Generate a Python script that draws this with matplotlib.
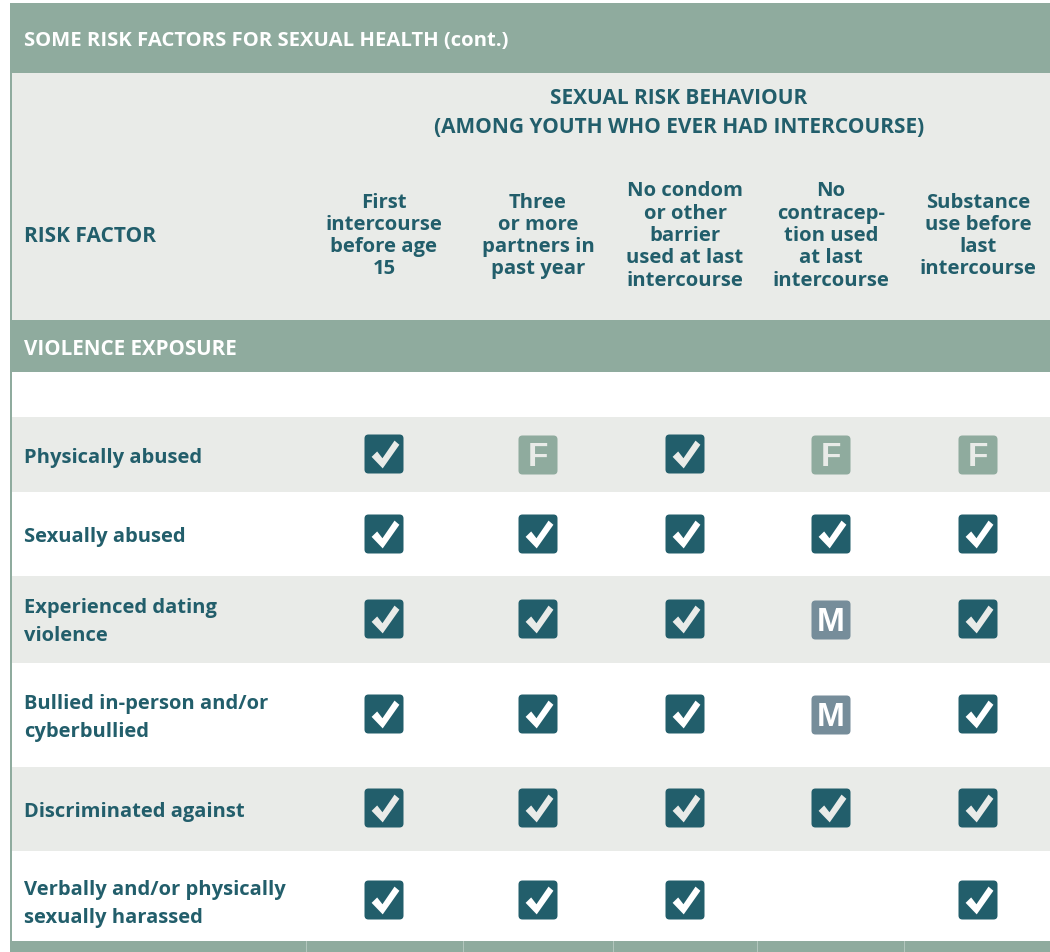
import matplotlib
matplotlib.use("Agg")
import matplotlib.pyplot as plt
from matplotlib.patches import FancyBboxPatch, Rectangle
from matplotlib.path import Path

plt.rcParams['font.family'] = ['Open Sans', 'DejaVu Sans']

title = "SOME RISK FACTORS FOR SEXUAL HEALTH (cont.)"
group_title = "SEXUAL RISK BEHAVIOUR\n(AMONG YOUTH WHO EVER HAD INTERCOURSE)"
section = "VIOLENCE EXPOSURE"
first_col = "RISK FACTOR"
columns = ["First\nintercourse\nbefore age\n15",
           "Three\nor more\npartners in\npast year",
           "No condom\nor other\nbarrier\nused at last\nintercourse",
           "No\ncontracep-\ntion used\nat last\nintercourse",
           "Substance\nuse before\nlast\nintercourse"]
rows = ["Physically abused",
        "Sexually abused",
        "Experienced dating\nviolence",
        "Bullied in-person and/or\ncyberbullied",
        "Discriminated against",
        "Verbally and/or physically\nsexually harassed"]
# C = check, F / M = only females / males, blank = nothing
cells = [["C", "F", "C", "F", "F"],
         ["C", "C", "C", "C", "C"],
         ["C", "C", "C", "M", "C"],
         ["C", "C", "C", "M", "C"],
         ["C", "C", "C", "C", "C"],
         ["C", "C", "C", "", "C"]]

green = "#8fab9e"
grey = "#e9ebe8"
teal = "#225e6b"
slate = "#768d9a"

col_x = [384, 538, 685, 831, 978]
row_y = [454, 534, 619, 714, 808, 900]
row_text_y = [457, 536, 621, 717, 811, 903]
row_edges = [417, 492, 576, 663, 767, 851, 941]

check = Path([(-1.0, -0.17), (-0.6, 0.22), (-0.22, -0.27), (0.65, 1.0), (1.0, 0.7), (-0.2, -1.0),
              (-1.0, -0.17)], closed=True)

fig = plt.figure(figsize=(10.5, 9.53), dpi=100)
ax = fig.add_axes([0, 0, 1, 1])
ax.set_xlim(0, 1050)
ax.set_ylim(952, -1)
ax.axis('off')


def band(y0, y1, color, x0=9.5):
    ax.add_patch(Rectangle((x0, y0), 1050 - x0, y1 - y0, color=color, lw=0))


band(3, 73, green)
band(73, 320, grey)
band(320, 372, green)
for i in range(6):
    if i % 2 == 0:
        band(row_edges[i], row_edges[i + 1], grey)
band(941, 953, green)
ax.add_patch(Rectangle((9.5, 73), 2.5, 868, color=green, lw=0))
for x in [306, 463, 613, 757, 904]:
    ax.plot([x, x], [941, 953], color="#b5c7be", lw=0.7)

head = dict(fontweight='bold', fontsize=14.6, color=teal, ha='center', va='center', linespacing=1.15)
ax.text(24, 40, title, fontweight='bold', fontsize=14.6, color='white', va='center')
ax.text(24, 349, section, fontweight='bold', fontsize=14.8, color='white', va='center')
ax.text(24, 236, first_col, fontweight='bold', fontsize=15, color=teal, va='center')
ax.text(679, 112, group_title, fontweight='bold', fontsize=15, color=teal, ha='center', va='center', linespacing=1.47)
for x, label in zip(col_x, columns):
    ax.text(x, 235, label, **head)

for y, label in zip(row_text_y, rows):
    ax.text(24, y, label, fontweight='bold', fontsize=14.5, color=teal, va='center', linespacing=1.55)

for y, row in zip(row_y, cells):
    for x, c in zip(col_x, row):
        if c == "":
            continue
        color = {"C": teal, "F": green, "M": slate}[c]
        yy = y + (1 if c != "C" else 0)
        ax.add_patch(FancyBboxPatch((x - 16.5, yy - 16.5), 33, 33, boxstyle="round,pad=3,rounding_size=4",
                                    fc=color, ec='none'))
        if c == "C":
            ax.scatter([x + 1], [yy], marker=check, s=400, color=grey if y in (454, 619, 808) else 'white', lw=0)
        else:
            ax.text(x, yy + 10.5, c, family='Liberation Sans', fontweight='bold', fontsize=24,
                    color=grey if c == "F" else 'white', ha='center', va='baseline')

fig.savefig("out.png", dpi=100)
